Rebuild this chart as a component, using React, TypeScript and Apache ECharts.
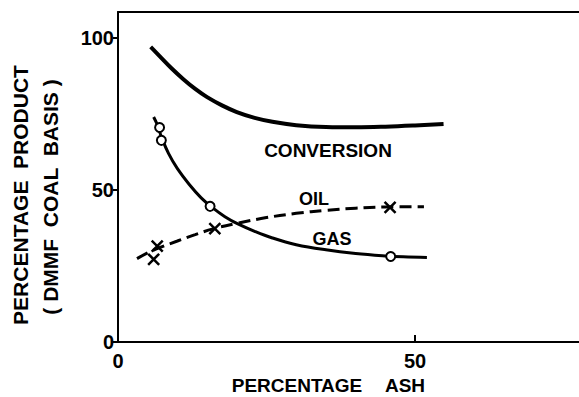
import React, { useEffect, useRef } from "react";
import * as echarts from "echarts";

// Percentage ash (x) vs percentage product on a DMMF coal basis (y)
const conversionCurve: [number, number][] = [
  [5.5, 97], [7, 94], [9, 90], [11, 86.4], [13, 83.2], [15, 80.5], [17.5, 77.8],
  [20, 75.6], [23, 73.7], [26, 72.4], [30, 71.3], [35, 70.7], [40, 70.6],
  [45, 70.8], [50, 71.2], [54.8, 71.7],
];

const gasCurve: [number, number][] = [
  [6.0, 74], [6.6, 71.5], [7.3, 67.5], [8.5, 62], [10, 57], [12, 51.8], [14, 47.4],
  [16, 44.0], [18, 41.2], [20, 39.0], [23, 36.4], [26, 34.2], [30, 32.0],
  [35, 30.3], [40, 29.1], [45, 28.3], [48, 28.0], [52, 27.8],
];
const gasPoints: [number, number][] = [
  [7.0, 70.5], [7.3, 66.3], [15.5, 44.6], [45.9, 28.1],
];

const oilCurve: [number, number][] = [
  [3.2, 27.4], [5, 29.3], [7, 31.0], [10, 33.2], [13, 35.3], [16, 37.2],
  [20, 39.0], [25, 40.9], [30, 42.3], [35, 43.3], [40, 44.0], [45, 44.4], [51.5, 44.5],
];
const oilPoints: [number, number][] = [
  [6.6, 31.5], [6.0, 27.2], [16.3, 37.3], [45.8, 44.3],
];

const xTicks = [0, 50];
const yTicks = [0, 50, 100];

const FONT = "'Liberation Sans', Arial, sans-serif";
const INK = "#000";

export default function App() {
  const ref = useRef<HTMLDivElement>(null);

  useEffect(() => {
    if (!ref.current) return;
    const chart = echarts.init(ref.current, undefined, { renderer: "svg" });

    const label = (text: string, x: number, y: number, size: number, rotation = 0) => ({
      type: "text",
      x,
      y,
      rotation,
      silent: true,
      style: {
        text,
        fill: INK,
        font: `bold ${size}px ${FONT}`,
        align: "center",
        verticalAlign: "middle",
      },
    });

    chart.setOption({
      animation: false,
      backgroundColor: "#fff",
      grid: { left: 118, top: 12, right: -2, bottom: 55 },
      xAxis: [
        {
          type: "value",
          min: 0,
          max: 77.6,
          interval: 50,
          axisLine: { show: true, lineStyle: { color: INK, width: 2 } },
          axisTick: { show: true, inside: true, length: 7, lineStyle: { color: INK, width: 2 } },
          axisLabel: {
            color: INK,
            fontFamily: FONT,
            fontWeight: "bold",
            fontSize: 20,
            margin: 9,
            showMaxLabel: false,
            formatter: (v: number) => (xTicks.includes(v) ? String(v) : ""),
          },
          splitLine: { show: false },
        },
        {
          type: "value",
          position: "top",
          min: 0,
          max: 77.6,
          axisLine: { show: true, lineStyle: { color: INK, width: 2 } },
          axisTick: { show: false },
          axisLabel: { show: false },
          splitLine: { show: false },
        },
      ],
      yAxis: {
        type: "value",
        min: 0,
        max: 108.5,
        interval: 50,
        axisLine: { show: true, lineStyle: { color: INK, width: 2 } },
        axisTick: { show: true, length: 5, lineStyle: { color: INK, width: 2 } },
        axisLabel: {
          color: INK,
          fontFamily: FONT,
          fontWeight: "bold",
          fontSize: 20,
          margin: 4,
          showMaxLabel: false,
          formatter: (v: number) => (yTicks.includes(v) ? String(v) : ""),
        },
        splitLine: { show: false },
      },
      series: [
        {
          name: "CONVERSION",
          type: "line",
          data: conversionCurve,
          smooth: 0.4,
          symbol: "none",
          lineStyle: { color: INK, width: 4 },
        },
        {
          name: "GAS",
          type: "line",
          data: gasCurve,
          smooth: 0.4,
          symbol: "none",
          lineStyle: { color: INK, width: 3 },
        },
        {
          name: "OIL",
          type: "line",
          data: oilCurve,
          smooth: 0.4,
          symbol: "none",
          lineStyle: { color: INK, width: 3, type: [12, 6] },
        },
        {
          name: "GAS data",
          type: "scatter",
          data: gasPoints,
          symbol: "circle",
          symbolSize: 9,
          itemStyle: { color: "#fff", borderColor: INK, borderWidth: 2, opacity: 1 },
          z: 5,
        },
        {
          name: "OIL data",
          type: "scatter",
          data: oilPoints,
          symbol: "path://M0,0L10,10M10,0L0,10",
          symbolSize: 11,
          itemStyle: { color: "none", borderColor: INK, borderWidth: 2.5, opacity: 1 },
          z: 5,
        },
      ],
      graphic: [
        label("CONVERSION", 328, 150, 19),
        label("OIL", 314, 199, 18),
        label("GAS", 332, 239, 18),
        label("PERCENTAGE", 297, 385, 19),
        label("ASH", 405, 385, 19),
        label("PERCENTAGE  PRODUCT", 20, 195, 21, Math.PI / 2),
        label("( DMMF  COAL  BASIS )", 50, 197, 21, Math.PI / 2),
      ],
    });

    return () => chart.dispose();
  }, []);

  return (
    <div
      ref={ref}
      style={{ position: "fixed", left: 0, top: 0, width: 579, height: 397, background: "#fff" }}
    />
  );
}
